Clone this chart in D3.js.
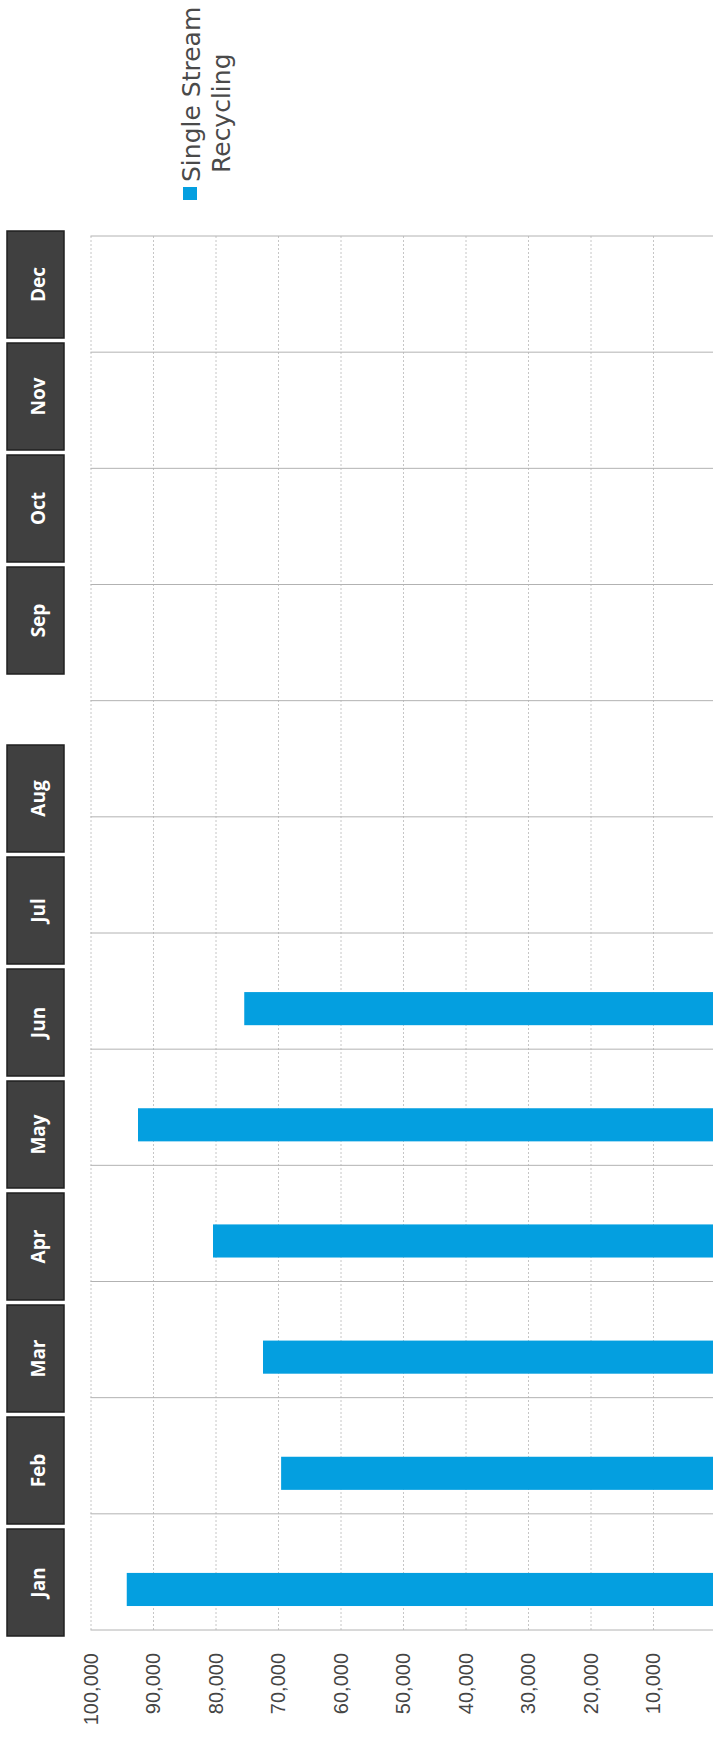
<!DOCTYPE html>
<html>
<head>
<meta charset="utf-8">
<script src="https://cdn.jsdelivr.net/npm/d3@7"></script>
<style>
  body { margin: 0; background: #fff; }
  svg { display: block; }
  .grid line { stroke: #c6c6c6; stroke-dasharray: 2, 2; }
  .grid .domain { display: none; }
  .cat line { stroke: #b2b2b2; }
  .tick-label { font-family: "Liberation Sans", Arial, sans-serif; font-size: 20px; fill: #454545; }
  .month { font-family: "Open Sans", sans-serif; font-weight: 700; font-size: 19px; fill: #fff; }
  .legend { font-family: "DejaVu Sans", sans-serif; font-size: 25px; fill: #4a4a4a; }
</style>
</head>
<body>
<svg width="713" height="1737"></svg>
<script>
const months = ["Jan", "Feb", "Mar", "Apr", "May", "Jun", "Jul", "Aug", "Sep", "Oct", "Nov", "Dec"];
const recycling = [94200, 69500, 72400, 80400, 92400, 75400, null, null, null, null, null, null];
const tickValues = [10000, 20000, 30000, 40000, 50000, 60000, 70000, 80000, 90000, 100000];
const legendLines = ["Single Stream", "Recycling"];

const svg = d3.select("svg");
const blue = "#049fe0";

// chart is drawn turned a quarter turn: months run bottom to top, values right to left
const plotTop = 236, plotBottom = 1630, plotLeft = 90.5;

const x = d3.scaleLinear().domain([0, 100000]).range([715.5, plotLeft]);
const y = d3.scaleBand().domain(months).range([plotBottom, plotTop]);
const fmt = d3.format(",");

// value gridlines
svg.append("g")
  .attr("class", "grid")
  .attr("transform", `translate(0, ${plotBottom})`)
  .call(d3.axisBottom(x).tickValues(tickValues).tickSize(-(plotBottom - plotTop)).tickFormat(""));

// category separators
const edges = months.map((m) => y(m)).concat([plotBottom]);
svg.append("g")
  .attr("class", "cat")
  .selectAll("line")
  .data(edges)
  .enter()
  .append("line")
  .attr("x1", plotLeft)
  .attr("x2", 713)
  .attr("y1", (d) => d)
  .attr("y2", (d) => d);

// bars
svg.append("g")
  .selectAll("rect")
  .data(months.map((m, i) => ({ m, v: recycling[i] })).filter((d) => d.v != null))
  .enter()
  .append("rect")
  .attr("x", (d) => x(d.v))
  .attr("y", (d) => y(d.m) + y.bandwidth() * 0.5 + 1)
  .attr("width", (d) => x(0) - x(d.v))
  .attr("height", y.bandwidth() * 0.285)
  .attr("fill", blue);

// value labels
svg.append("g")
  .selectAll("text")
  .data(tickValues)
  .enter()
  .append("text")
  .attr("class", "tick-label")
  .attr("transform", (d) => `translate(${x(d)}, 1653) rotate(-90)`)
  .attr("text-anchor", "end")
  .attr("dy", "0.36em")
  .text((d) => fmt(d));

// month header boxes (separate strip, with a wider gap after Aug)
const boxPitch = 112, boxH = 107, boxGap = 66;
const boxTop = (i) => 1529 - boxPitch * i - (i >= 8 ? boxGap : 0);

const boxes = svg.append("g")
  .selectAll("g")
  .data(months)
  .enter()
  .append("g")
  .attr("transform", (d, i) => `translate(7, ${boxTop(i)})`);

boxes.append("rect")
  .attr("width", 57)
  .attr("height", boxH)
  .attr("fill", "#404040")
  .attr("stroke", "#1f1f1f")
  .attr("stroke-width", 1.5);

boxes.append("text")
  .attr("class", "month")
  .attr("transform", `translate(31, ${boxH / 2}) rotate(-90)`)
  .attr("text-anchor", "middle")
  .attr("dy", "0.36em")
  .text((d) => d);

// legend
svg.append("rect")
  .attr("x", 183)
  .attr("y", 187)
  .attr("width", 14)
  .attr("height", 13)
  .attr("fill", blue);

svg.append("g")
  .selectAll("text")
  .data(legendLines)
  .enter()
  .append("text")
  .attr("class", "legend")
  .attr("transform", (d, i) => `translate(${200 + i * 30}, ${182 - i * 9}) rotate(-90)`)
  .text((d) => d);
</script>
</body>
</html>
